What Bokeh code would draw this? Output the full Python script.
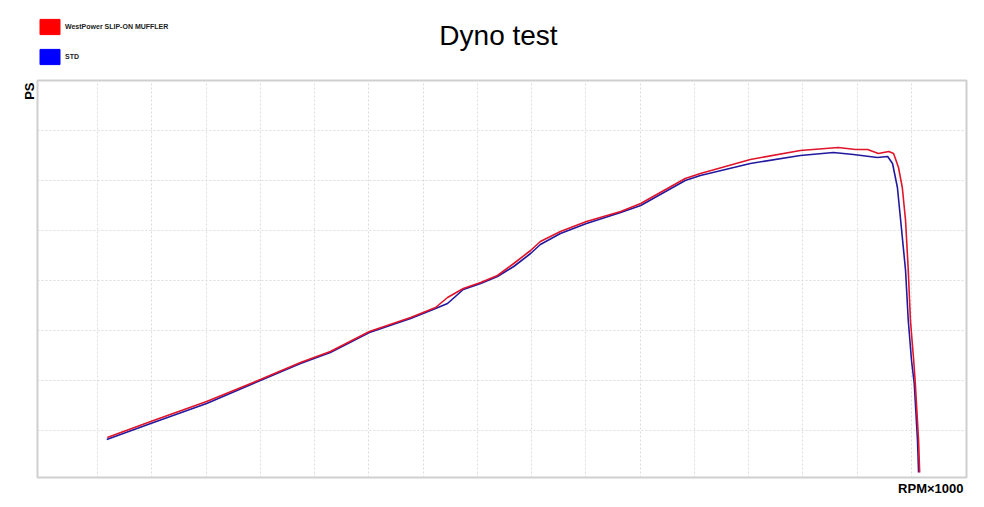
from bokeh.plotting import figure
from bokeh.layouts import column
from bokeh.models import Range1d, FixedTicker, Label, Legend, LegendItem, Title
from bokeh.embed import file_html
from bokeh.resources import INLINE

# RPM x1000 (grid units) and PS
rpm_westpower = [1.18, 1.98, 3.01, 4.00, 4.74, 5.29, 6.01, 6.77, 7.23, 7.45, 7.74, 8.06, 8.37, 8.67,
                 8.98, 9.16, 9.53, 10.01, 10.64, 11.01, 11.37, 11.83, 12.11, 13.03, 13.95, 14.65,
                 14.97, 15.19, 15.39, 15.58, 15.67, 15.76, 15.83, 15.89, 15.94, 15.98, 16.04, 16.07,
                 16.13, 16.15]
ps_westpower = [1.72, 2.36, 3.16, 4.04, 4.72, 5.16, 5.96, 6.52, 6.92, 7.32, 7.68, 7.92, 8.20, 8.68,
                9.20, 9.56, 9.96, 10.36, 10.76, 11.08, 11.52, 12.08, 12.28, 12.84, 13.20, 13.32,
                13.24, 13.24, 13.08, 13.16, 13.08, 12.52, 11.72, 10.40, 8.40, 6.40, 4.80, 3.88,
                1.60, 0.32]

rpm_std = [1.17, 1.98, 3.01, 4.00, 4.74, 5.29, 6.01, 6.77, 7.23, 7.45, 7.74, 8.06, 8.37, 8.67,
           8.98, 9.16, 9.53, 10.01, 10.64, 11.01, 11.37, 11.83, 12.11, 13.03, 13.95, 14.56,
           14.93, 15.37, 15.56, 15.65, 15.74, 15.80, 15.89, 15.94, 16.00, 16.05, 16.11, 16.13]
ps_std = [1.64, 2.28, 3.08, 4.00, 4.68, 5.12, 5.92, 6.48, 6.88, 7.08, 7.64, 7.88, 8.16, 8.56,
          9.08, 9.44, 9.88, 10.28, 10.72, 11.00, 11.44, 12.00, 12.20, 12.68, 13.00, 13.12,
          13.04, 12.92, 12.96, 12.68, 11.72, 10.40, 8.40, 6.40, 4.80, 3.88, 1.60, 0.32]

x_grid_ticks = list(range(1, 17))
y_grid_ticks = [2, 4, 6, 8, 10, 12, 14]

series_names = ["WestPower SLIP-ON MUFFLER", "STD"]
line_colors = ["#e0142a", "#22199e"]
legend_colors = ["#ff0000", "#0000ff"]

W = 972
FONT = "Liberation Sans"
NAN = float("nan")

# ---- header strip (title + legend) ----
top = figure(width=W, height=78, output_backend="svg", toolbar_location=None,
             x_range=Range1d(0, W), y_range=Range1d(78, 0),
             x_axis_location=None, y_axis_location=None, min_border=0)
top.frame_align = False
top.grid.visible = False
top.outline_line_color = None
top.background_fill_color = "white"
top.border_fill_color = "white"

items = []
for name, col in zip(series_names, legend_colors):
    # legend swatch source: one empty (NaN) row so the legend has a colour to draw
    r = top.rect(x=[NAN], y=[NAN], width=1, height=1, fill_color=col, line_color=col)
    items.append(LegendItem(label=name, renderers=[r]))
legend = Legend(items=items, location=(37, 12), glyph_width=25, glyph_height=19,
                label_height=19, spacing=11, padding=0, margin=0, label_standoff=3,
                label_text_font=FONT, label_text_font_size="7px",
                label_text_font_style="bold", label_text_color="#222222",
                border_line_color=None, background_fill_alpha=0)
top.add_layout(legend, "center")
top.add_layout(Label(x=498, y=35, text="Dyno test", text_font=FONT, text_font_size="28px",
                     text_align="center", text_baseline="alphabetic", text_color="black"))

# ---- main chart ----
p = figure(width=W, height=421, output_backend="svg", toolbar_location=None,
           x_range=Range1d(-0.106, 17.013), y_range=Range1d(0.12, 16.0),
           min_border_left=37, min_border_right=W - 37 - 929, min_border_top=2,
           min_border_bottom=22)
p.frame_align = False
p.axis.visible = False
p.xgrid.ticker = FixedTicker(ticks=x_grid_ticks)
p.ygrid.ticker = FixedTicker(ticks=y_grid_ticks)
p.grid.grid_line_color = "#dcdcdc"
p.grid.grid_line_dash = "2 2"
p.grid.grid_line_width = 1
p.outline_line_color = "#cfcfcf"
p.outline_line_width = 2
p.background_fill_color = "white"
p.border_fill_color = "white"

p.line(rpm_std, ps_std, line_color=line_colors[1], line_width=1.6)
p.line(rpm_westpower, ps_westpower, line_color=line_colors[0], line_width=1.6)

p.add_layout(Title(text="PS", align="right", standoff=2, offset=2, text_font=FONT,
                   text_font_size="13px", text_font_style="bold", text_color="black"), "left")
p.add_layout(Title(text="RPM×1000", align="right", standoff=3, offset=3, text_font=FONT,
                   text_font_size="13px", text_font_style="bold", text_color="black"), "below")

layout = column(top, p, spacing=0)
open("out.html", "w").write(file_html(layout, INLINE))
